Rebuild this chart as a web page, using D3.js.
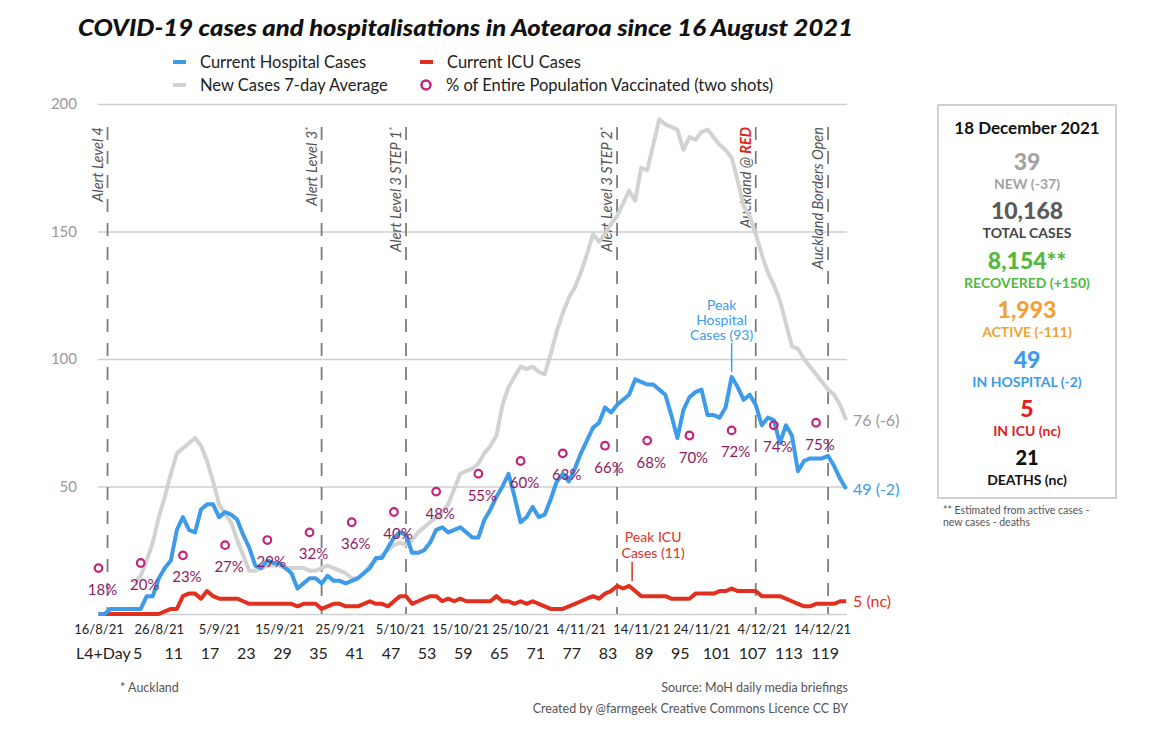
<!DOCTYPE html>
<html><head><meta charset="utf-8">
<script src="https://cdn.jsdelivr.net/npm/d3@7"></script>
<style>
body{margin:0;background:#fff}
svg{display:block}
text{font-family:Lato,"Open Sans",sans-serif}
</style>
</head><body>
<svg id="c" width="1170" height="732"></svg>
<script>
// ---------------- DATA ----------------
const startDate = [2021, 7, 16];   // 16 Aug 2021 = index 0
const endDate = [2021, 11, 18];    // 18 Dec 2021

const hospital = [
 0,0,2,2,2,2,2,2,7,7,
 14,18,21,33,38,33,32,41,43,43,
 38,40,39,37,31,26,19,18,21,20,
 20,18,16,10,12,14,14,12,15,13,
 13,12,13,14,16,18,22,22,26,30,
 32,31,24,24,25,28,33,34,32,33,
 34,32,30,30,37,41,46,50,55,46,
 36,38,42,38,39,45,52,55,52,57,
 63,68,73,75,81,79,82,84,86,92,
 91,90,90,88,86,78,69,80,85,87,
 88,78,78,77,81,93,89,84,86,82,
 74,77,76,67,74,70,56,60,61,61,
 61,62,58,53,49];

const icu = [
 0,0,0,0,0,0,0,0,0,0,
 0,1,2,2,7,8,8,6,9,7,
 6,6,6,6,5,4,4,4,4,4,
 4,4,4,3,4,4,4,2,3,4,
 4,3,3,3,4,5,4,4,3,5,
 7,7,4,5,6,7,7,5,6,5,
 6,5,5,5,5,5,7,5,5,4,
 5,4,5,4,3,2,2,2,3,4,
 5,6,7,6,8,9,11,10,11,9,
 7,7,7,7,7,6,6,6,6,8,
 8,8,8,9,9,10,9,9,9,9,
 7,7,7,7,6,5,4,3,3,4,
 4,4,4,5,5];

const newCases7 = [
 null,null,null,null,null,null,12,15,21,28,
 38,46,55,63,65,67,69,66,60,52,
 43,39,36,29,23,17,17,18,19,19,
 19,18,18,18,18,17,17,18,19,18,
 17,16,14,14,16,19,21,23,25,27,
 28,27,29,32,34,36,38,40,43,49,
 55,56,57,59,63,66,70,82,89,93,
 97,96,97,95,94,102,111,118,124,128,
 134,141,149,146,149,153,156,161,166,162,
 175,174,184,194,192,191,190,182,187,186,
 189,190,187,184,182,179,170,160,156,149,
 141,134,129,123,114,105,104,100,97,94,
 91,88,86,82,76];

// % of population fully vaccinated, weekly from 16 Aug
const vaccinated = [18,20,23,27,29,32,36,40,48,55,60,63,66,68,70,72,74,75];

const dateTicks = [[2021,7,16],[2021,7,26],[2021,8,5],[2021,8,15],[2021,8,25],[2021,9,5],[2021,9,15],[2021,9,25],[2021,10,4],[2021,10,14],[2021,10,24],[2021,11,4],[2021,11,14]];
const dateTickLabels = ["16/8/21","26/8/21","5/9/21","15/9/21","25/9/21","5/10/21","15/10/21","25/10/21","4/11/21","14/11/21","24/11/21","4/12/21","14/12/21"];
const l4Days = [5,11,17,23,29,35,41,47,53,59,65,71,77,83,89,95,101,107,113,119];
const yTicks = [0,50,100,150,200];
const yTickLabels = ["","50","100","150","200"];

const eventDates = [[2021,7,17,12],[2021,8,22],[2021,9,6],[2021,10,10],[2021,11,3],[2021,11,15]];
const eventLabels = ["Alert Level 4","Alert Level 3","Alert Level 3 STEP 1","Alert Level 3 STEP 2","Auckland @ ","Auckland Borders Open"];
const eventStars = ["","*","*","*","",""];
const eventRed = ["","","","","RED",""];

const boxDate = "18 December 2021";
const boxValues = ["39","10,168","8,154**","1,993","49","5","21"];
const boxLabels = ["NEW (-37)","TOTAL CASES","RECOVERED (+150)","ACTIVE (-111)","IN HOSPITAL (-2)","IN ICU (nc)","DEATHS (nc)"];
const endLabels = ["76 (-6)","49 (-2)","5 (nc)"];

// ---------------- DRAW ----------------
const mk = a => new Date(a[0], a[1], a[2], a[3] || 0);
const dayDate = i => new Date(startDate[0], startDate[1], startDate[2] + i);

const svg = d3.select("#c");
const x = d3.scaleTime().domain([mk(startDate), mk(endDate)]).range([98.5, 846.2]);
const y = d3.scaleLinear().domain([0, 200]).range([614, 104]);

const C = {blue:"#3d9be9", red:"#e1301f", gray:"#d2d2d2", purple:"#c2247d", purpleText:"#8e1b62",
           green:"#52b83e", orange:"#f0a234"};

// title
svg.append("text").attr("x", 78).attr("y", 36)
  .attr("textLength", 775).attr("lengthAdjust", "spacingAndGlyphs")
  .style("font-size", "23px").style("font-weight", 900).style("font-style", "italic").attr("fill", "#111")
  .text("COVID-19 cases and hospitalisations in Aotearoa since 16 August 2021");

// legend
const leg = svg.append("g").style("font-size", "16.5px").attr("fill", "#222");
[[173, 62, C.blue, "Current Hospital Cases"], [420, 62, C.red, "Current ICU Cases"],
 [173, 85, C.gray, "New Cases 7-day Average"]].forEach(([lx, ly, col, t]) => {
  leg.append("line").attr("x1", lx).attr("x2", lx + 13).attr("y1", ly).attr("y2", ly)
     .attr("stroke", col).attr("stroke-width", 4);
  leg.append("text").attr("x", lx + 27).attr("y", ly).attr("dy", "0.35em").text(t);
});
leg.append("circle").attr("cx", 426).attr("cy", 85).attr("r", 4.5).attr("fill", "none")
   .attr("stroke", C.purple).attr("stroke-width", 2.5);
leg.append("text").attr("x", 446).attr("y", 85).attr("dy", "0.35em").text("% of Entire Population Vaccinated (two shots)");

// y grid + labels
const yAxis = svg.append("g").attr("transform", "translate(98,0)")
  .call(d3.axisLeft(y).tickValues(yTicks).tickSize(-(847 - 98)).tickPadding(21)
        .tickFormat((d, i) => yTickLabels[i]));
yAxis.select(".domain").remove();
yAxis.selectAll(".tick line").attr("stroke", "#cfcfcf").attr("stroke-width", 1.6);
yAxis.selectAll(".tick text").attr("fill", "#999").style("font-size", "15px").style("font-family", "Lato, sans-serif");

// event dashed lines + labels
eventDates.forEach((d, i) => {
  const ex = x(mk(d));
  svg.append("line").attr("x1", ex).attr("x2", ex).attr("y1", 127).attr("y2", 614)
    .attr("stroke", "#7d7d7d").attr("stroke-width", 1.8).attr("stroke-dasharray", "13,11");
  const t = svg.append("text").attr("transform", `translate(${ex - 5},127) rotate(-90)`)
    .attr("text-anchor", "end").style("font-size", "14.5px").style("font-style", "italic").attr("fill", "#555");
  t.append("tspan").text(eventLabels[i]);
  if (eventRed[i]) t.append("tspan").attr("fill", "#e0201c").style("font-weight", 700).text(eventRed[i]);
  if (eventStars[i]) t.append("tspan").attr("dy", -5).style("font-size", "10px").text(eventStars[i]);
});

// x axis date labels
const xAxis = svg.append("g").attr("transform", "translate(0,614)")
  .call(d3.axisBottom(x).tickValues(dateTicks.map(mk)).tickSize(0).tickPadding(11)
        .tickFormat((d, i) => dateTickLabels[i]));
xAxis.select(".domain").remove();
xAxis.selectAll(".tick text").attr("fill", "#222").style("font-size", "13px").style("font-family", "Lato, sans-serif");

// L4 day row
const l4Start = mk(eventDates[0]);
svg.append("text").attr("x", 76).attr("y", 653).attr("dy", "0.35em").style("font-size", "16px").attr("fill", "#222").text("L4+Day");
svg.append("g").selectAll("text").data(l4Days).join("text")
  .attr("x", d => x(d3.timeDay.offset(l4Start, d))).attr("y", 653).attr("dy", "0.35em")
  .attr("text-anchor", "middle").style("font-size", "16px").attr("fill", "#222").text(d => d);

// lines
const line = d3.line().defined(d => d != null).x((d, i) => x(dayDate(i))).y(d => y(d));
svg.append("path").attr("d", line(newCases7)).attr("fill", "none").attr("stroke", C.gray)
  .attr("stroke-width", 4).attr("stroke-linejoin", "round");
svg.append("path").attr("d", line(icu)).attr("fill", "none").attr("stroke", C.red)
  .attr("stroke-width", 4).attr("stroke-linejoin", "round");
svg.append("path").attr("d", line(hospital)).attr("fill", "none").attr("stroke", C.blue)
  .attr("stroke-width", 4).attr("stroke-linejoin", "round");

// vaccination markers
const vg = svg.append("g");
vaccinated.forEach((v, i) => {
  const vx = x(dayDate(i * 7)), vy = y(v);
  vg.append("circle").attr("cx", vx).attr("cy", vy).attr("r", 3.8).attr("fill", "none")
    .attr("stroke", C.purple).attr("stroke-width", 2.2);
  vg.append("text").attr("x", vx + 4).attr("y", vy + 27).attr("text-anchor", "middle")
    .style("font-size", "15px").attr("fill", C.purpleText).text(v + "%");
});

// annotations
const peakH = hospital.indexOf(d3.max(hospital), 100);
const phx = x(dayDate(peakH));
svg.append("line").attr("x1", phx).attr("x2", phx).attr("y1", 343).attr("y2", y(hospital[peakH]) - 5)
  .attr("stroke", C.blue).attr("stroke-width", 1.5);
const pht = svg.append("text").attr("text-anchor", "middle").style("font-size", "14px").attr("fill", C.blue);
["Peak", "Hospital", `Cases (${hospital[peakH]})`].forEach((t, k) =>
  pht.append("tspan").attr("x", phx - 10).attr("y", 310 + k * 15).text(t));

const peakI = icu.indexOf(d3.max(icu), 87);
const pix = x(dayDate(peakI)) + 3;
svg.append("line").attr("x1", pix).attr("x2", pix).attr("y1", 562).attr("y2", y(icu[peakI]) - 5)
  .attr("stroke", C.red).attr("stroke-width", 1.5);
const pit = svg.append("text").attr("text-anchor", "middle").style("font-size", "14px").attr("fill", C.red);
["Peak ICU", `Cases (${icu[peakI]})`].forEach((t, k) =>
  pit.append("tspan").attr("x", pix + 21).attr("y", 542 + k * 16).text(t));

// end labels
const last = hospital.length - 1;
[[newCases7[last], "#999"], [hospital[last], C.blue], [icu[last], C.red]].forEach(([v, col], k) => {
  svg.append("text").attr("x", 853).attr("y", y(v)).attr("dy", "0.35em").style("font-size", "16px")
    .attr("fill", col).text(endLabels[k]);
});

// right box
svg.append("rect").attr("x", 938).attr("y", 105).attr("width", 178).attr("height", 393)
  .attr("fill", "none").attr("stroke", "#d0d0d0").attr("stroke-width", 2);
const bx = 1027;
svg.append("text").attr("x", bx).attr("y", 128).attr("dy", "0.35em").attr("text-anchor", "middle")
  .style("font-size", "17px").style("font-weight", 700).attr("fill", "#111").text(boxDate);
const boxCols = ["#a3a3a3", "#5a5a5a", C.green, C.orange, C.blue, "#e0201c", "#111"];
const boxLabCols = ["#a3a3a3", "#444", C.green, C.orange, C.blue, "#e0201c", "#111"];
boxValues.forEach((v, k) => {
  const yy = 162 + k * 49.4;
  svg.append("text").attr("x", bx).attr("y", yy).attr("dy", "0.35em").attr("text-anchor", "middle")
    .style("font-size", k === 6 ? "20px" : "23px").style("font-weight", 900).attr("fill", boxCols[k]).text(v);
  svg.append("text").attr("x", bx).attr("y", yy + 22).attr("dy", "0.35em").attr("text-anchor", "middle")
    .style("font-size", "14px").style("font-weight", 700).attr("fill", boxLabCols[k]).text(boxLabels[k]);
});
svg.append("text").attr("x", 943).attr("y", 514).style("font-size", "10.5px").attr("fill", "#555")
  .text("** Estimated from active cases -");
svg.append("text").attr("x", 943).attr("y", 526).style("font-size", "10.5px").attr("fill", "#555")
  .text("new cases - deaths");

// footer
svg.append("text").attr("x", 120).attr("y", 692).style("font-size", "12.5px").attr("fill", "#555").text("* Auckland");
svg.append("text").attr("x", 848).attr("y", 692).attr("text-anchor", "end").style("font-size", "12.5px").attr("fill", "#555")
  .text("Source: MoH daily media briefings");
svg.append("text").attr("x", 848).attr("y", 713).attr("text-anchor", "end").style("font-size", "12.5px").attr("fill", "#555")
  .text("Created by @farmgeek Creative Commons Licence CC BY");
</script>
</body></html>
